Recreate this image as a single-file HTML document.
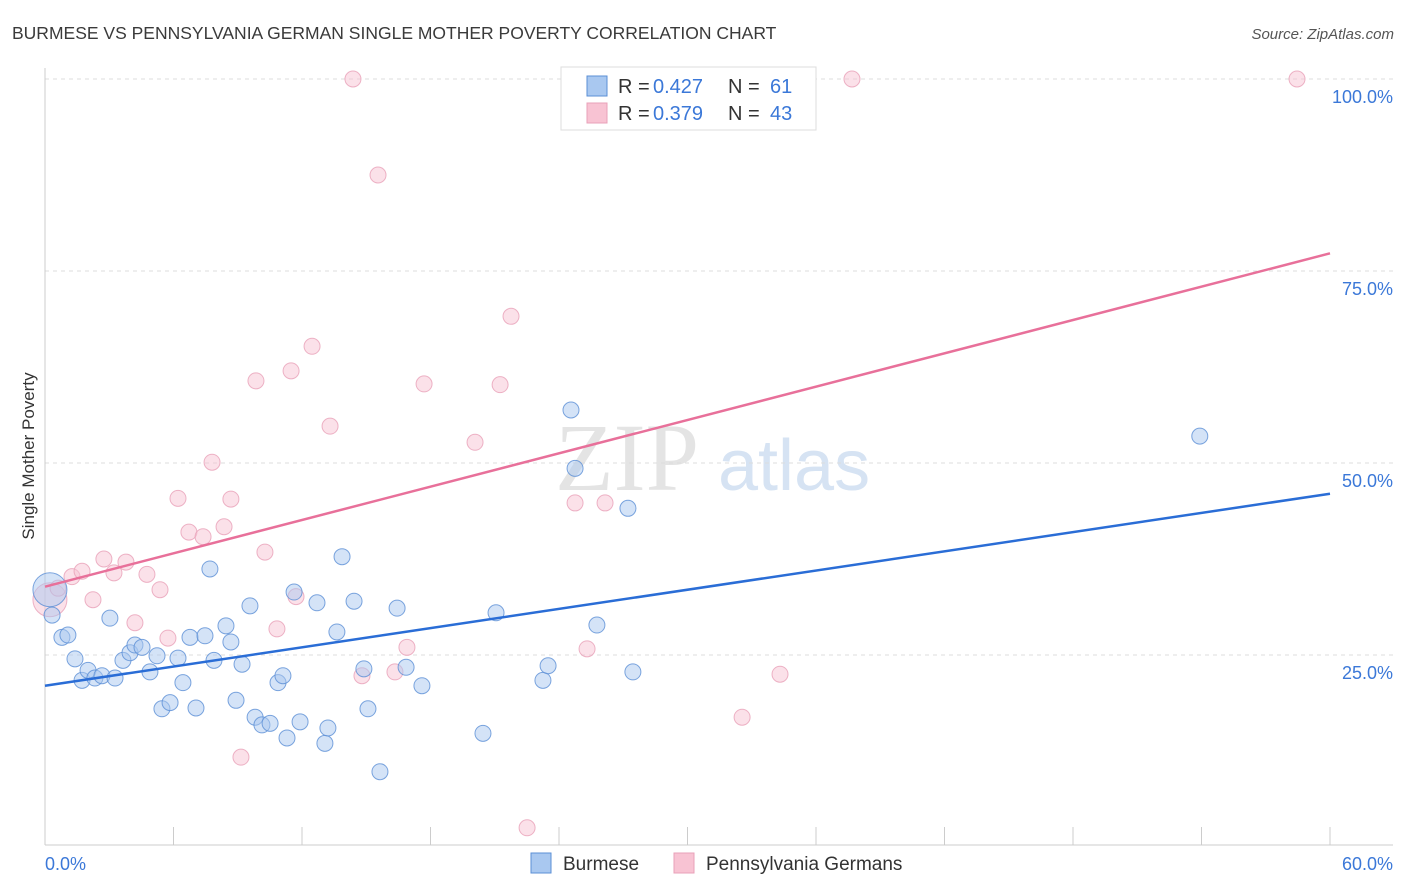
<!DOCTYPE html>
<html><head><meta charset="utf-8">
<style>
body{margin:0;background:#fff;font-family:"Liberation Sans",sans-serif;}
#wrap{position:relative;width:1406px;height:892px;overflow:hidden}
</style></head>
<body>
<div id="wrap">
<svg id="chart" width="1406" height="892"></svg>
</div>
<script>
const blueX=[0.23,0.33,0.79,1.07,1.40,1.73,2.01,2.33,2.66,3.27,3.03,3.64,3.97,4.20,4.53,4.90,5.23,5.46,5.84,6.21,6.44,6.77,7.05,7.47,7.70,7.89,8.45,8.68,8.92,9.20,9.57,9.81,10.13,10.51,10.88,11.11,11.30,11.63,11.91,12.70,13.07,13.21,13.63,13.87,14.43,14.89,15.08,15.64,16.44,16.86,17.60,20.45,21.06,23.25,23.49,24.56,24.75,25.77,27.22,27.45,53.92];
const blueY=[33.5,30.2,27.3,27.6,24.5,21.7,23.0,22.0,22.3,22.0,29.8,24.3,25.3,26.3,26.0,22.8,24.9,18.0,18.8,24.6,21.4,27.3,18.1,27.5,36.2,24.3,28.8,26.7,19.1,23.8,31.4,16.9,15.9,16.1,21.4,22.3,14.2,33.2,16.3,31.8,13.5,15.5,28.0,37.8,32.0,23.2,18.0,9.8,31.1,23.4,21.0,14.8,30.5,21.7,23.6,56.9,49.3,28.9,44.1,22.8,53.5];
const pinkX=[0.23,0.61,1.26,1.73,2.24,2.75,3.22,3.78,4.20,4.76,5.37,5.74,6.21,6.72,7.38,7.80,8.36,8.68,9.15,9.85,10.27,10.83,11.49,11.72,12.47,13.31,14.38,14.80,15.55,16.34,16.90,17.70,20.08,21.25,21.76,22.51,24.75,25.31,26.15,32.55,34.32,37.68,58.46];
const pinkY=[32.2,33.7,35.2,35.9,32.2,37.5,35.7,37.1,29.2,35.5,33.5,27.2,45.4,41.0,40.4,50.1,41.7,45.3,11.7,60.7,38.4,28.4,62.0,32.6,65.2,54.8,100,22.3,87.5,22.8,26.0,60.3,52.7,60.2,69.1,2.5,44.8,25.8,44.8,16.9,22.5,100,100];
const blueLine=[21.0,46.0];
const pinkLine=[33.9,77.3];
const yTicks=[25,50,75,100];
const yTickLabels=["25.0%","50.0%","75.0%","100.0%"];

const NS="http://www.w3.org/2000/svg";
const svg=document.getElementById('chart');
const X0=45,X1=1330,Y0=847,YS=7.68;
const sx=v=>X0+v/60*(X1-X0);
const sy=v=>Y0-v*YS;
function mk(t,a,p){const e=document.createElementNS(NS,t);for(const k in a)e.setAttribute(k,a[k]);(p||svg).appendChild(e);return e;}

let t=mk('text',{x:12,y:39,'font-size':17.5,fill:'#3a3a3a'});t.textContent='BURMESE VS PENNSYLVANIA GERMAN SINGLE MOTHER POVERTY CORRELATION CHART';


t=mk('text',{x:1394,y:39,'font-size':15,fill:'#555','font-style':'italic','text-anchor':'end'});t.textContent='Source: ZipAtlas.com';



t=mk('text',{x:555,y:490,'font-size':96,fill:'#e4e4e4','font-family':'Liberation Serif, serif'});t.textContent='ZIP';


t=mk('text',{x:718,y:490,'font-size':72,fill:'#d6e3f3'});t.textContent='atlas';



yTicks.forEach((v,i)=>{
  const g=mk('line',{x1:X0,x2:1393,y1:sy(v),y2:sy(v),stroke:'#dcdcdc','stroke-dasharray':'4,4'});
  
  
  const l=mk('text',{x:1393,y:sy(v)+24,'font-size':18,fill:'#3b78d8','text-anchor':'end'});l.textContent=yTickLabels[i];
  
  
});
let a=mk('line',{x1:X0,x2:X0,y1:68,y2:845,stroke:'#ccc'});


a=mk('line',{x1:X0,x2:1393,y1:845,y2:845,stroke:'#ccc'});


for(let k=1;k<=10;k++){const tk=mk('line',{x1:sx(k*6),x2:sx(k*6),y1:827,y2:845,stroke:'#ccc'});
  
  }
t=mk('text',{x:45,y:870,'font-size':18,fill:'#3b78d8'});t.textContent='0.0%';


t=mk('text',{x:1393,y:870,'font-size':18,fill:'#3b78d8','text-anchor':'end'});t.textContent='60.0%';


t=mk('text',{x:34,y:456,'font-size':17,fill:'#333','text-anchor':'middle',transform:'rotate(-90 34 456)'});t.textContent='Single Mother Poverty';



function pts(xs,ys,fill,stroke,name){
  xs.forEach((x,i)=>{const r=i===0?17:8;const c=mk('circle',{cx:sx(x),cy:sy(ys[i]),r:r,fill:fill,stroke:stroke,'stroke-width':1,'fill-opacity':0.5,'stroke-opacity':0.8});
    
    });
}
pts(pinkX,pinkY,'#f8c3d3','#e9a0b8','pennsylvania-german-point');
pts(blueX,blueY,'#a9c8f0','#5b8fd6','burmese-point');

let ln=mk('line',{x1:sx(0),y1:sy(blueLine[0]),x2:sx(60),y2:sy(blueLine[1]),stroke:'#2a6dd6','stroke-width':2.5});


ln=mk('line',{x1:sx(0),y1:sy(pinkLine[0]),x2:sx(60),y2:sy(pinkLine[1]),stroke:'#e8709a','stroke-width':2.5});



let lg=mk('rect',{x:561,y:67,width:255,height:63,fill:'#fff',stroke:'#ddd'});


[['#a9c8f0','#5b8fd6','0.427','61',86],['#f8c3d3','#e9a0b8','0.379','43',113]].forEach(r=>{
  const s=mk('rect',{x:587,y:r[4]-10,width:20,height:20,fill:r[0],stroke:r[1]});
  
  
  const parts=[['R =',618,'#333'],[r[2],653,'#3b78d8'],['N =',728,'#333'],[r[3],770,'#3b78d8']];
  parts.forEach(p=>{
    const tx=mk('text',{x:p[1],y:r[4]+7,'font-size':20,fill:p[2]});tx.textContent=p[0];
    
    
  });
});

[['#a9c8f0','#5b8fd6','Burmese',531,563],['#f8c3d3','#e9a0b8','Pennsylvania Germans',674,706]].forEach(r=>{
  const s=mk('rect',{x:r[3],y:853,width:20,height:20,fill:r[0],stroke:r[1]});
  
  
  const tx=mk('text',{x:r[4],y:870,'font-size':19,fill:'#333'});tx.textContent=r[2];
  
  
});
</script>
</body></html>
